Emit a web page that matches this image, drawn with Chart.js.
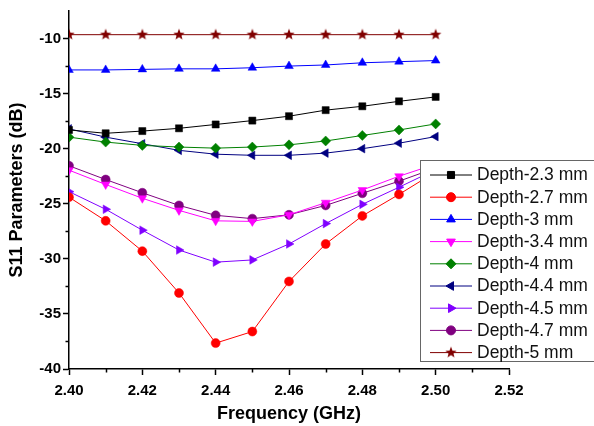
<!DOCTYPE html>
<html>
<head>
<meta charset="utf-8">
<script src="https://cdn.jsdelivr.net/npm/chart.js@4.4.1/dist/chart.umd.min.js"></script>
<style>
  html, body { margin: 0; padding: 0; background: #fff; }
  #wrap { width: 594px; height: 426px; }
</style>
</head>
<body>
<div id="wrap"><canvas id="chart" width="594" height="426"></canvas></div>
<script>
// ===== Data =====
const freq = [2.40, 2.41, 2.42, 2.43, 2.44, 2.45, 2.46, 2.47, 2.48, 2.49, 2.50];

const depthLabels = ['Depth-2.3 mm', 'Depth-2.7 mm', 'Depth-3 mm', 'Depth-3.4 mm', 'Depth-4 mm',
                     'Depth-4.4 mm', 'Depth-4.5 mm', 'Depth-4.7 mm', 'Depth-5 mm'];

const depth23 = [-18.3, -18.6, -18.4, -18.15, -17.8, -17.45, -17.05, -16.5, -16.15, -15.7, -15.3];
const depth27 = [-24.4, -26.55, -29.3, -33.1, -37.65, -36.6, -32.05, -28.65, -26.1, -24.15, -22.1];
const depth3  = [-12.85, -12.85, -12.8, -12.75, -12.75, -12.65, -12.5, -12.4, -12.2, -12.1, -12.0];
const depth34 = [-21.95, -23.25, -24.5, -25.6, -26.55, -26.6, -26.0, -24.9, -23.75, -22.5, -21.4];
const depth4  = [-18.95, -19.4, -19.7, -19.85, -19.95, -19.85, -19.65, -19.3, -18.8, -18.3, -17.75];
const depth44 = [-18.2, -18.95, -19.55, -20.15, -20.5, -20.6, -20.6, -20.4, -20.0, -19.5, -18.9];
const depth45 = [-23.9, -25.5, -27.4, -29.2, -30.3, -30.1, -28.65, -26.8, -25.05, -23.5, -21.9];
const depth47 = [-21.55, -22.8, -24.0, -25.15, -26.05, -26.35, -26.0, -25.15, -24.05, -22.95, -21.75];
const depth5  = [-9.65, -9.65, -9.65, -9.65, -9.65, -9.65, -9.65, -9.65, -9.65, -9.65, -9.65];

const series = [depth23, depth27, depth3, depth34, depth4, depth44, depth45, depth47, depth5];

// ===== Styles =====
const colors = ['#000000', '#ff0000', '#0000ff', '#ff00ff', '#008000', '#000080', '#8000ff', '#800080', '#800000'];

// filled 5-point star for Depth-5 (Chart.js 'star' is only an asterisk)
function makeStar(color, r) {
    const c = document.createElement('canvas');
    const s = Math.ceil(r * 2 + 2);
    c.width = s; c.height = s;
    const g = c.getContext('2d');
    g.fillStyle = color;
    g.beginPath();
    for (let i = 0; i < 10; i++) {
        const rad = i % 2 === 0 ? r : r * 0.42;
        const a = -Math.PI / 2 + i * Math.PI / 5;
        const px = s / 2 + rad * Math.cos(a), py = s / 2 + rad * Math.sin(a);
        i === 0 ? g.moveTo(px, py) : g.lineTo(px, py);
    }
    g.closePath();
    g.fill();
    return c;
}

const pointStyles = ['rect', 'circle', 'triangle', 'triangle', 'rectRot', 'triangle', 'triangle', 'circle', makeStar('#800000', 6)];
const rotations  = [0, 0, 0, 180, 0, -90, 90, 0, 0];
const radii      = [5, 4.5, 5, 5, 5, 5, 5, 4.5, 5];

const datasets = series.map((vals, i) => ({
    label: depthLabels[i],
    data: vals.map((v, j) => ({ x: freq[j], y: v })),
    borderColor: colors[i],
    backgroundColor: colors[i],
    borderWidth: 1,
    pointStyle: pointStyles[i],
    rotation: rotations[i],
    pointRadius: radii[i],
    pointBorderWidth: 0.5,
    pointBorderColor: colors[i],
    pointBackgroundColor: colors[i],
    tension: 0
}));

// ===== Minor ticks (outward, half length) =====
const minorTicks = {
    id: 'minorTicks',
    afterDraw(chart) {
        const { ctx, scales: { x, y } } = chart;
        ctx.save();
        ctx.strokeStyle = '#000';
        ctx.lineWidth = 1.5;
        ctx.beginPath();
        for (let v = 2.41; v < 2.52; v += 0.02) {
            const px = Math.round(x.getPixelForValue(v)) + 0.5;
            ctx.moveTo(px, y.bottom);
            ctx.lineTo(px, y.bottom + 3.5);
        }
        for (let v = -37.5; v < -8; v += 5) {
            const py = Math.round(y.getPixelForValue(v)) + 0.5;
            ctx.moveTo(x.left, py);
            ctx.lineTo(x.left - 3.5, py);
        }
        ctx.stroke();
        ctx.restore();
    }
};

// ===== Origin-style legend (line + marker) =====
const legendBox = {
    id: 'legendBox',
    afterDraw(chart) {
        const ctx = chart.ctx;
        const bx = 420.5, by = 160.5, bw = 200, bh = 201;
        ctx.save();
        ctx.fillStyle = '#fff';
        ctx.fillRect(bx, by, bw, bh);
        ctx.strokeStyle = '#666';
        ctx.lineWidth = 1;
        ctx.strokeRect(bx, by, bw, bh);
        chart.data.datasets.forEach((ds, i) => {
            const cy = 175 + i * 22.2;
            ctx.strokeStyle = ds.borderColor;
            ctx.lineWidth = 1;
            ctx.beginPath();
            ctx.moveTo(430, cy);
            ctx.lineTo(472, cy);
            ctx.stroke();
            ctx.fillStyle = ds.pointBackgroundColor;
            ctx.strokeStyle = ds.pointBorderColor;
            Chart.helpers.drawPoint(ctx, {
                pointStyle: ds.pointStyle, rotation: ds.rotation,
                radius: ds.pointRadius, borderWidth: 0.5
            }, 451, cy);
            ctx.fillStyle = '#111';
            ctx.font = '17.5px "Liberation Sans", Arial, sans-serif';
            ctx.textBaseline = 'middle';
            ctx.textAlign = 'left';
            ctx.fillText(ds.label, 477, cy + 0.5);
        });
        ctx.restore();
    }
};

const tickFont = { family: '"Liberation Sans", Arial, sans-serif', size: 15, weight: 'bold' };
const titleFont = { family: '"Liberation Sans", Arial, sans-serif', size: 18, weight: 'bold' };

new Chart(document.getElementById('chart').getContext('2d'), {
    type: 'line',
    data: { datasets },
    plugins: [minorTicks, legendBox],
    options: {
        responsive: false,
        animation: false,
        layout: { padding: { top: 11, right: 85, left: 0, bottom: 0 } },
        plugins: { legend: { display: false }, tooltip: { enabled: false } },
        scales: {
            x: {
                type: 'linear',
                min: 2.40,
                max: 2.52,
                afterFit: s => { s.height = 57; },
                grid: { drawOnChartArea: false, tickLength: 6, tickColor: '#000', tickWidth: 1.5 },
                border: { color: '#000', width: 1.5 },
                ticks: {
                    stepSize: 0.02,
                    includeBounds: false,
                    color: '#000',
                    font: tickFont,
                    padding: 7,
                    maxRotation: 0,
                    callback: v => v.toFixed(2)
                },
                title: { display: true, text: 'Frequency (GHz)', color: '#000', font: titleFont, padding: { bottom: 1 } }
            },
            y: {
                min: -40,
                max: -7.5,
                afterFit: s => { s.width = 69; },
                grid: { drawOnChartArea: false, tickLength: 6, tickColor: '#000', tickWidth: 1.5 },
                border: { color: '#000', width: 1.5 },
                ticks: {
                    stepSize: 5,
                    includeBounds: false,
                    color: '#000',
                    font: tickFont,
                    padding: 2
                },
                title: { display: true, text: 'S11 Parameters (dB)', color: '#000', font: titleFont, padding: { top: 6 } }
            }
        }
    }
});
</script>
</body>
</html>
